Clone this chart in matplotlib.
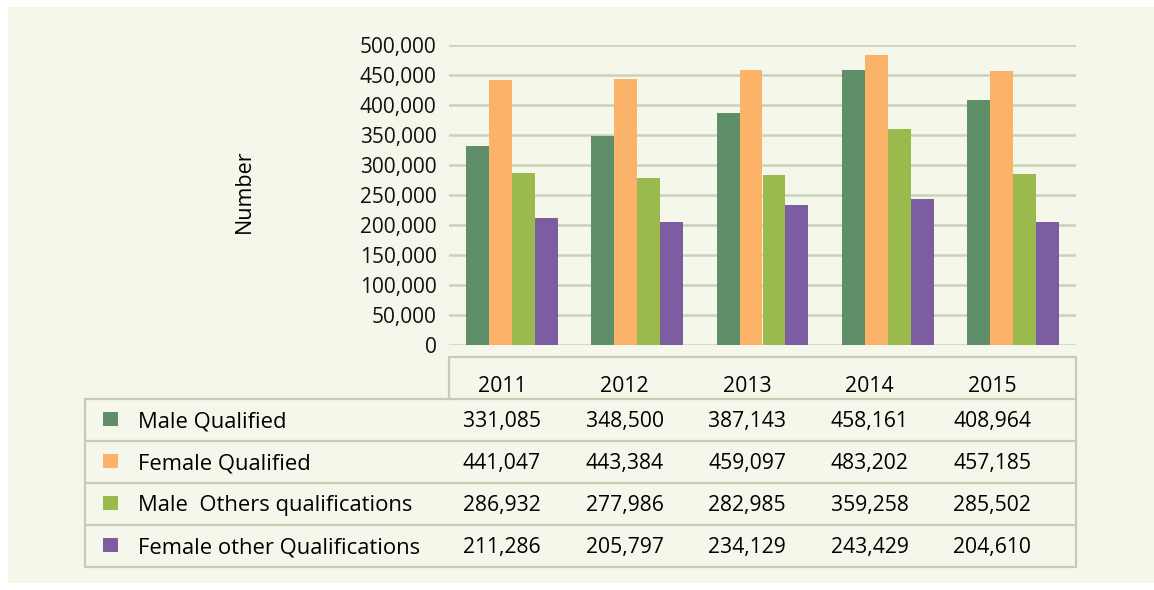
import numpy as np
import matplotlib
matplotlib.use("Agg")
import matplotlib.pyplot as plt
from matplotlib.patches import Rectangle

### Data ###
years = ["2011", "2012", "2013", "2014", "2015"]
series = ["Male Qualified", "Female Qualified",
          "Male  Others qualifications", "Female other Qualifications"]
male_qualified = [331085, 348500, 387143, 458161, 408964]
female_qualified = [441047, 443384, 459097, 483202, 457185]
male_other = [286932, 277986, 282985, 359258, 285502]
female_other = [211286, 205797, 234129, 243429, 204610]
values = [male_qualified, female_qualified, male_other, female_other]
colors = ["#5f8f69", "#fbb369", "#9bba4e", "#7c5da1"]

plt.rcParams["font.family"] = ["Open Sans", "DejaVu Sans"]
bg = "#f5f7ea"
grid_c = "#c9d2ba"

W, H = 1154, 590
fig = plt.figure(figsize=(W / 100, H / 100), dpi=100)
fig.patch.set_facecolor("white")

# overlay in pixel coords for panel + table
ov = fig.add_axes([0, 0, 1, 1], zorder=0)
ov.set_xlim(0, W)
ov.set_ylim(H, 0)
ov.axis("off")
ov.add_patch(Rectangle((8, 7), W - 8, 576, facecolor=bg, edgecolor="none"))

### Bar chart ###
ax = fig.add_axes([449 / W, 1 - 345 / H, 627 / W, 300 / H], zorder=1)
ax.set_facecolor("none")
x = np.arange(len(years))
bw = 0.183
for i, (vals, c) in enumerate(zip(values, colors)):
    ax.bar(x + (i - 1.5) * bw, vals, bw, color=c, zorder=3)
ax.set_xlim(-0.5, len(years) - 0.5)
ax.set_ylim(0, 500000)
ax.set_yticks(np.arange(0, 500001, 50000))
ax.set_yticklabels([f"{v:,}" for v in range(0, 500001, 50000)], fontsize=15)
ax.tick_params(axis="y", length=0, pad=9, colors="#111111")
ax.set_xticks([])
ax.grid(axis="y", color=grid_c, linewidth=1.8, zorder=0)
for s in ax.spines.values():
    s.set_visible(False)
ax.set_ylabel("Number", fontsize=15.5)
ax.yaxis.set_label_coords((255 - 449) / 627, (345 - 191) / 300)

### Data table ###
lc = "#c3cfb3"
lw = 1.6
row_top = 399
row_h = 42
col_x = [502 + 122.6 * j for j in range(len(years))]
# header box
ov.plot([449, 449, 1076, 1076], [row_top, 357, 357, row_top], color=lc, lw=lw)
for j, yr in enumerate(years):
    ov.text(col_x[j], 386, yr, ha="center", va="center", fontsize=15.3)
# rows
ov.plot([85, 1076, 1076, 85, 85],
        [row_top, row_top, row_top + 4 * row_h, row_top + 4 * row_h, row_top],
        color=lc, lw=lw)
for i in range(1, 4):
    ov.plot([85, 1076], [row_top + i * row_h] * 2, color=lc, lw=lw)
for i, (name, vals, c) in enumerate(zip(series, values, colors)):
    yc = row_top + i * row_h + row_h / 2
    ov.add_patch(Rectangle((103, yc - 8), 15, 14, facecolor=c, edgecolor="none"))
    ov.text(138, yc + 2, name, ha="left", va="center", fontsize=15.8)
    for j, v in enumerate(vals):
        ov.text(col_x[j], yc + 2, f"{v:,}", ha="center", va="center", fontsize=15.2)

fig.savefig("out.png", dpi=100, facecolor=fig.get_facecolor())
